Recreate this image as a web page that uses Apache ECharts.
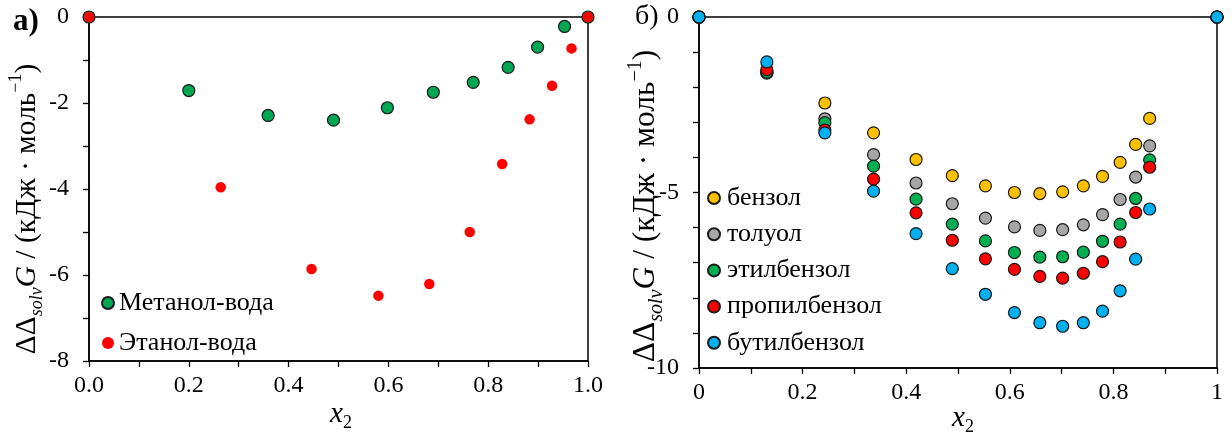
<!DOCTYPE html>
<html>
<head>
<meta charset="utf-8">
<script src="https://cdn.jsdelivr.net/npm/echarts@6/dist/echarts.min.js"></script>
<style>
  html, body { margin: 0; padding: 0; background: #fff; }
  #chart { width: 1232px; height: 436px; }
</style>
</head>
<body>
<div id="chart"></div>
<script>
// Panel а: alcohol–water mixtures
const xMethanol = [0, 0.200, 0.359, 0.490, 0.598, 0.690, 0.770, 0.840, 0.899, 0.953, 1];
const yMethanol = [0, -1.71, -2.29, -2.40, -2.11, -1.75, -1.52, -1.17, -0.70, -0.22, 0];
const xEthanol  = [0, 0.264, 0.446, 0.580, 0.682, 0.763, 0.828, 0.883, 0.928, 0.967, 1];
const yEthanol  = [0, -3.96, -5.86, -6.48, -6.21, -5.00, -3.42, -2.38, -1.60, -0.73, 0];

// Panel б: alkylbenzenes
const xArom      = [0, 0.131, 0.243, 0.337, 0.419, 0.489, 0.553, 0.609, 0.658, 0.702, 0.742, 0.779, 0.813, 0.843, 0.870, 1];
const yBenzene   = [0, -1.58, -2.45, -3.30, -4.06, -4.52, -4.81, -5.00, -5.03, -4.98, -4.81, -4.54, -4.14, -3.63, -2.89, 0];
const yToluene   = [0, -1.60, -2.90, -3.92, -4.73, -5.32, -5.73, -5.98, -6.08, -6.06, -5.92, -5.63, -5.20, -4.56, -3.67, 0];
const yEthylbz   = [0, -1.57, -3.01, -4.25, -5.19, -5.90, -6.38, -6.71, -6.84, -6.83, -6.70, -6.39, -5.90, -5.17, -4.07, 0];
const yPropylbz  = [0, -1.50, -3.22, -4.62, -5.58, -6.36, -6.89, -7.19, -7.39, -7.44, -7.30, -6.97, -6.41, -5.57, -4.28, 0];
const yButylbz   = [0, -1.28, -3.30, -4.96, -6.17, -7.17, -7.90, -8.42, -8.71, -8.81, -8.71, -8.38, -7.80, -6.90, -5.47, 0];

const namesA = ['Метанол-вода', 'Этанол-вода'];
const namesB = ['бензол', 'толуол', 'этилбензол', 'пропилбензол', 'бутилбензол'];

const FONT = '"Liberation Serif", "DejaVu Serif", serif';
const pair = (xs, ys) => xs.map((x, i) => [x, ys[i]]);

const axisLine = { show: true, onZero: false, lineStyle: { color: '#000', width: 1.5 } };
const axisTick = { show: true, inside: false, length: 6, lineStyle: { color: '#000', width: 1.3 } };
const labelStyle = { color: '#000', fontFamily: FONT, fontSize: 24, hideOverlap: false };

function isStep(v, step) {
  return Math.abs(Math.round(v / step) * step - v) < 1e-6;
}

const chart = echarts.init(document.getElementById('chart'), null, { renderer: 'canvas' });

const dot = (color, border) => ({
  color: color,
  borderColor: border ? '#1a1a1a' : color,
  borderWidth: border ? 1.2 : 0,
  opacity: 1
});

const rightColors = ['#FFC000', '#A6A6A6', '#00B050', '#FF0000', '#00B0F0'];
const rightData = [yBenzene, yToluene, yEthylbz, yPropylbz, yButylbz];

const titleRich = (size) => ({
  n: { fontFamily: FONT, fontSize: size, color: '#000', lineHeight: size + 10 },
  i: { fontFamily: FONT, fontSize: size, fontStyle: 'italic', color: '#000', lineHeight: size + 10 },
  s: { fontFamily: FONT, fontSize: Math.round(size * 0.62), fontStyle: 'italic', color: '#000', verticalAlign: 'bottom', lineHeight: Math.round(size * 0.62) },
  p: { fontFamily: FONT, fontSize: Math.round(size * 0.62), color: '#000', verticalAlign: 'top', lineHeight: Math.round(size * 0.62) }
});
const yTitleText = '{n|ΔΔ}{s|solv}{i|G}{n| / (кДж · моль}{p|−1}{n|)}';
const xTitleText = '{i|x}{s|2}';
const xRich = {
  i: { fontFamily: FONT, fontSize: 29, fontStyle: 'italic', color: '#000', lineHeight: 36 },
  s: { fontFamily: FONT, fontSize: 18, color: '#000', verticalAlign: 'bottom', lineHeight: 18 }
};

const legendText = { fontFamily: FONT, fontSize: 26, color: '#000', lineHeight: 26 };

const option = {
  animation: false,
  backgroundColor: '#fff',
  grid: [
    { left: 89, top: 17, width: 499, height: 344, show: true, borderColor: '#000', borderWidth: 1.5, backgroundColor: 'transparent' },
    { left: 699, top: 17, width: 518, height: 351, show: true, borderColor: '#000', borderWidth: 1.5, backgroundColor: 'transparent' }
  ],
  xAxis: [
    {
      type: 'value', gridIndex: 0, min: 0, max: 1, interval: 0.1,
      axisLine, axisTick, splitLine: { show: false },
      axisLabel: Object.assign({}, labelStyle, {
        margin: 13,
        formatter: v => isStep(v, 0.2) ? v.toFixed(1) : ''
      })
    },
    {
      type: 'value', gridIndex: 1, min: 0, max: 1, interval: 0.1,
      axisLine, axisTick, splitLine: { show: false },
      axisLabel: Object.assign({}, labelStyle, {
        margin: 13,
        formatter: v => {
          if (!isStep(v, 0.2)) return '';
          if (v < 1e-6) return '0';
          if (v > 1 - 1e-6) return '1';
          return v.toFixed(1);
        }
      })
    }
  ],
  yAxis: [
    {
      type: 'value', gridIndex: 0, min: -8, max: 0, interval: 1,
      axisLine, axisTick, splitLine: { show: false },
      axisLabel: Object.assign({}, labelStyle, {
        margin: 20,
        formatter: v => isStep(v, 2) ? String(Math.round(v)) : ''
      })
    },
    {
      type: 'value', gridIndex: 1, min: -10, max: 0, interval: 1,
      axisLine, axisTick, splitLine: { show: false },
      axisLabel: Object.assign({}, labelStyle, {
        margin: 20,
        formatter: v => isStep(v, 5) ? String(Math.round(v)) : ''
      })
    }
  ],
  legend: [
    {
      data: namesA, orient: 'vertical', left: 96, top: 285,
      itemWidth: 12, itemHeight: 12, itemGap: 14,
      textStyle: legendText,
      selectedMode: false
    },
    {
      data: namesB, orient: 'vertical', left: 702, top: 180,
      itemWidth: 12, itemHeight: 12, itemGap: 10.2,
      textStyle: Object.assign({ padding: [0, 0, 0, 2] }, legendText),
      selectedMode: false
    }
  ],
  series: [
    {
      name: namesA[0], type: 'scatter', xAxisIndex: 0, yAxisIndex: 0, clip: false,
      symbol: 'circle', symbolSize: 12, itemStyle: dot('#00A651', true),
      data: pair(xMethanol, yMethanol), z: 3
    },
    {
      name: namesA[1], type: 'scatter', xAxisIndex: 0, yAxisIndex: 0, clip: false,
      symbol: 'circle', symbolSize: 10.5, itemStyle: dot('#FF0000', false),
      data: pair(xEthanol, yEthanol), z: 4
    }
  ].concat(namesB.map((name, k) => ({
    name: name, type: 'scatter', xAxisIndex: 1, yAxisIndex: 1, clip: false,
    symbol: 'circle', symbolSize: 12, itemStyle: dot(rightColors[k], true),
    data: pair(xArom, rightData[k]), z: 3 + k
  }))),
  graphic: [
    {
      type: 'text', x: 27, y: 209, rotation: Math.PI / 2,
      style: { text: yTitleText, rich: titleRich(29.5), align: 'center', verticalAlign: 'middle' }
    },
    {
      type: 'text', x: 646, y: 206, rotation: Math.PI / 2,
      style: { text: yTitleText, rich: titleRich(31.5), align: 'center', verticalAlign: 'middle' }
    },
    {
      type: 'text', x: 341, y: 414,
      style: { text: xTitleText, rich: xRich, align: 'center', verticalAlign: 'middle' }
    },
    {
      type: 'text', x: 963, y: 418,
      style: { text: xTitleText, rich: xRich, align: 'center', verticalAlign: 'middle' }
    },
    {
      type: 'text', x: 13, y: 22,
      style: { text: 'а)', fontFamily: FONT, fontSize: 31, fontWeight: 'bold', fill: '#000', verticalAlign: 'middle' }
    },
    {
      type: 'text', x: 635, y: 17,
      style: { text: 'б)', fontFamily: FONT, fontSize: 28, fill: '#000', verticalAlign: 'middle' }
    }
  ]
};

chart.setOption(option);
</script>
</body>
</html>
